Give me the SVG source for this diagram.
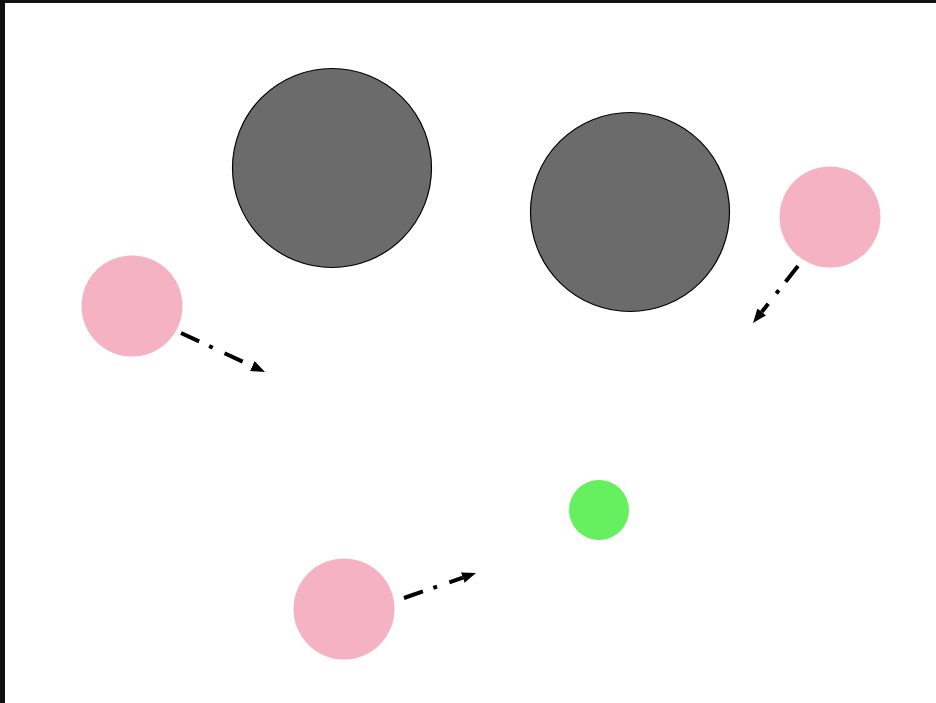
<svg xmlns="http://www.w3.org/2000/svg" width="936" height="703" viewBox="0 0 936 703">
<style>
.big{fill:#6b6b6b;stroke:#000;stroke-width:1.2}
.pink{fill:#f5b2c2}
.green{fill:#66f060}
.conn{stroke:#000;stroke-width:4;fill:none;stroke-dasharray:20 11 4 13}
</style>
<defs>
<marker id="ah" markerUnits="userSpaceOnUse" markerWidth="15" markerHeight="12" refX="0" refY="5.5" orient="auto">
<path d="M0,0 L14,5.5 L0,11 z" fill="#000"/>
</marker>
</defs>
<rect x="0" y="0" width="936" height="703" fill="#fff"/>
<rect x="0" y="0" width="936" height="3" fill="#111"/>
<rect x="0" y="0" width="5" height="703" fill="#111"/>
<g id="gray1"><circle class="big" cx="332" cy="168" r="99.5"/></g>
<g id="gray2"><circle class="big" cx="630" cy="212" r="99.5"/></g>
<g id="pink1"><circle class="pink" cx="132" cy="306" r="50.5"/></g>
<g id="pink2"><circle class="pink" cx="830" cy="217" r="50.5"/></g>
<g id="pink3"><circle class="pink" cx="344" cy="609" r="50.5"/></g>
<g id="green"><circle class="green" cx="599" cy="510" r="30"/></g>
<g id="connectors">
<line class="conn" x1="181" y1="333" x2="252.3" y2="366.1" marker-end="url(#ah)"/>
<line class="conn" x1="798" y1="266" x2="761.7" y2="312" marker-end="url(#ah)"/>
<line class="conn" x1="404" y1="598" x2="462.8" y2="577.6" marker-end="url(#ah)"/>
</g>
</svg>
